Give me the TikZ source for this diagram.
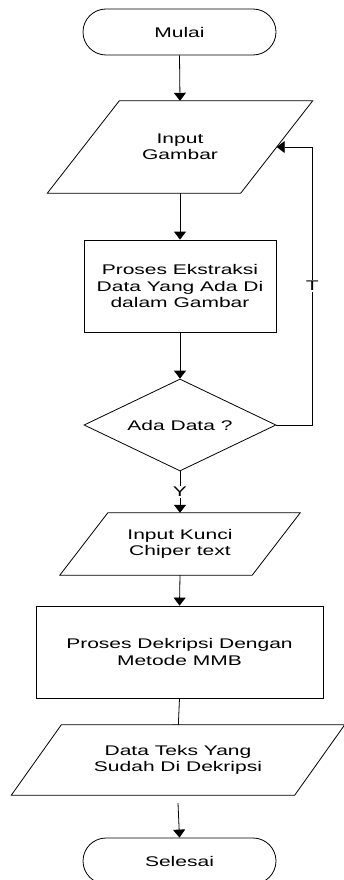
\documentclass[tikz,border=0pt]{standalone}
\usepackage{fontspec}
\setmainfont{Liberation Sans}[FakeStretch=1.5]
\usetikzlibrary{shapes.geometric,arrows.meta}
\newcommand{\fs}{\fontsize{14}{16.5}\selectfont}
\newcommand{\drawpara}[3][]{\draw[line width=0.8pt,#1] ([xshift=#3]#2.north west) -- ([xshift=#3]#2.north east) -- ([xshift=-#3]#2.south east) -- ([xshift=-#3]#2.south west) -- cycle;}
\tikzset{
  base/.style={draw, line width=0.8pt, font=\fs, align=center, inner sep=0pt},
  term/.style={base, rectangle, rounded corners=23pt, minimum width=193pt, minimum height=46pt},
  proc/.style={base, rectangle},
  iobox/.style={rectangle, font=\fs, align=center, inner sep=0pt},
  dec/.style={base, diamond, aspect=2, minimum width=192pt, minimum height=92pt},
  arr/.style={-{Triangle[width=12pt,length=8pt]}, line width=0.8pt},
  lbl/.style={fill=white, inner sep=1pt, font=\fs}
}
\begin{document}
\begin{tikzpicture}[x=1pt,y=-1pt]
\useasboundingbox (0,0) rectangle (343,880);
% nodes
\node[term] (start) at (179.5,32) {Mulai};
\node[iobox, minimum width=193pt, minimum height=92pt] (in1) at (180,147) {Input\\Gambar};
\node[proc, minimum width=192pt, minimum height=92pt] (p1) at (180,286) {Proses Ekstraksi\\Data Yang Ada Di\\dalam Gambar};
\node[dec] (dia) at (180,425) {Ada Data ?};
\node[iobox, minimum width=192pt, minimum height=62pt] (in2) at (180,544) {Input Kunci\\Chiper text};
\node[proc, minimum width=287pt, minimum height=92pt] (p2) at (179.5,652) {Proses Dekripsi Dengan\\Metode MMB};
\node[iobox, minimum width=283pt, minimum height=70pt] (out) at (178,760) {};
\node[term] (end) at (179.5,861) {Selesai};
% parallelogram outlines
\drawpara{in1}{36pt}
\drawpara{in2}{24pt}
% connector partly hidden under the output shape
\draw[arr] (p2.south) -- ([yshift=-8pt]out.north);
\drawpara[fill=white]{out}{25pt}
\node[iobox] (outtext) at (out.center) {Data Teks Yang\\Sudah Di Dekripsi};
% connectors
\draw[arr] (start.south) -- (in1.north);
\draw[arr] (in1.south) -- (p1.north);
\draw[arr] (p1.south) -- (dia.north);
\draw[arr] (dia.south) -- node[lbl] {Y} (in2.north);
\draw[arr] (in2.south) -- (p2.north);
\draw[arr] (out.south) ++(0,8) -- (end.north);
\draw[arr] (dia.east) -- ++(36,0) |- node[lbl, pos=0.25] {T} (in1.east);
\end{tikzpicture}
\end{document}
